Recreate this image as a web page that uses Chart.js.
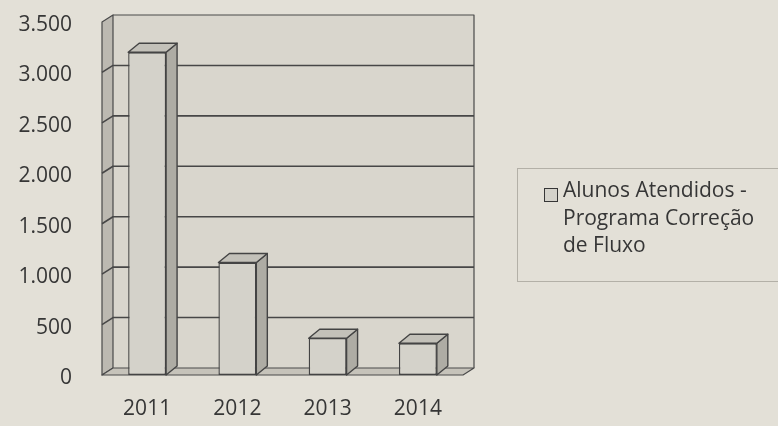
<!DOCTYPE html>
<html>
<head>
<meta charset="utf-8">
<script src="https://cdn.jsdelivr.net/npm/chart.js@4/dist/chart.umd.min.js"></script>
<style>
  html, body { margin: 0; padding: 0; background: #e3e0d7; }
  #wrap { position: relative; width: 778px; height: 426px; background: #e3e0d7; overflow: hidden; }
  #c { position: absolute; left: 0; top: 0; }
  #legend {
    position: absolute; left: 517px; top: 168px; width: 275px; height: 114px;
    border: 1px solid #b3b0a7; border-right: none; box-sizing: border-box;
    font-family: "Open Sans", sans-serif; font-size: 21px; color: #363636;
  }
  #legend .box {
    position: absolute; left: 26px; top: 19px; width: 12px; height: 12px;
    border: 1.5px solid #363636; background: #d4d2ca;
  }
  #legend .txt { position: absolute; left: 45px; top: 7px; line-height: 27.5px; white-space: nowrap; }
</style>
</head>
<body>
<div id="wrap">
  <canvas id="c" width="778" height="426"></canvas>
  <div id="legend"><div class="box"></div><div class="txt" id="legendText"></div></div>
</div>
<script>
const categories = ['2011', '2012', '2013', '2014'];
const alunosAtendidos = [3200, 1115, 365, 315];
const yTickValues = [0, 500, 1000, 1500, 2000, 2500, 3000, 3500];
const seriesName = 'Alunos Atendidos - Programa Correção de Fluxo';
const legendLines = ['Alunos Atendidos -', 'Programa Correção', 'de Fluxo'];

document.getElementById('legendText').innerHTML = legendLines.join('<br>');

const fmt = v => String(v).replace(/\B(?=(\d{3})+(?!\d))/g, '.');
const wallDx = 11, wallDy = -7, barDx = 11, barDy = -9;
const lineCol = '#4a4a4a';

const threeD = {
  id: 'threeD',
  beforeDatasetsDraw(chart) {
    const ctx = chart.ctx;
    const { left: L, right: R, top: T, bottom: B } = chart.chartArea;
    const ys = chart.scales.y;
    ctx.save();
    ctx.lineJoin = 'round';
    // back wall
    ctx.fillStyle = '#d9d6cd';
    ctx.fillRect(L + wallDx, T + wallDy, R - L, B - T);
    ctx.strokeStyle = lineCol; ctx.lineWidth = 1.2;
    ctx.beginPath();
    ctx.moveTo(L + wallDx, T + wallDy); ctx.lineTo(R + wallDx, T + wallDy);
    ctx.lineTo(R + wallDx, B + wallDy);
    ctx.stroke();
    // left wall
    ctx.fillStyle = '#bcb9b1';
    ctx.beginPath();
    ctx.moveTo(L, T); ctx.lineTo(L + wallDx, T + wallDy); ctx.lineTo(L + wallDx, B + wallDy); ctx.lineTo(L, B); ctx.closePath();
    ctx.fill(); ctx.stroke();
    // floor
    ctx.fillStyle = '#c6c3ba';
    ctx.beginPath();
    ctx.moveTo(L, B); ctx.lineTo(L + wallDx, B + wallDy); ctx.lineTo(R + wallDx, B + wallDy); ctx.lineTo(R, B); ctx.closePath();
    ctx.fill(); ctx.stroke();
    // gridlines
    ctx.lineWidth = 1.6; ctx.strokeStyle = '#474747';
    yTickValues.forEach(v => {
      if (v === 0 || v === 3500) return;
      const y = ys.getPixelForValue(v);
      ctx.beginPath();
      ctx.moveTo(L, y); ctx.lineTo(L + wallDx, y + wallDy); ctx.lineTo(R + wallDx, y + wallDy);
      ctx.stroke();
    });
    ctx.restore();
  },
  afterDatasetsDraw(chart) {
    const ctx = chart.ctx;
    const meta = chart.getDatasetMeta(0);
    ctx.save();
    ctx.lineJoin = 'round';
    ctx.strokeStyle = '#444'; ctx.lineWidth = 1.4;
    meta.data.forEach(bar => {
      const { x, y, width, base } = bar.getProps(['x', 'y', 'width', 'base'], true);
      const l = x - width / 2, r = x + width / 2;
      // side face
      ctx.fillStyle = '#aeaca4';
      ctx.beginPath();
      ctx.moveTo(r, y); ctx.lineTo(r + barDx, y + barDy); ctx.lineTo(r + barDx, base + barDy); ctx.lineTo(r, base); ctx.closePath();
      ctx.fill(); ctx.stroke();
      // top face
      ctx.fillStyle = '#c3c1b9';
      ctx.beginPath();
      ctx.moveTo(l, y); ctx.lineTo(l + barDx, y + barDy); ctx.lineTo(r + barDx, y + barDy); ctx.lineTo(r, y); ctx.closePath();
      ctx.fill(); ctx.stroke();
    });
    ctx.restore();
  }
};

const font = { family: '"Open Sans", sans-serif', size: 21 };

new Chart(document.getElementById('c'), {
  type: 'bar',
  data: {
    labels: categories,
    datasets: [{
      label: seriesName,
      data: alunosAtendidos,
      backgroundColor: '#d4d2ca',
      borderColor: '#444',
      borderWidth: 1.4,
      borderSkipped: false,
      barPercentage: 0.42,
      categoryPercentage: 1
    }]
  },
  options: {
    responsive: false,
    animation: false,
    devicePixelRatio: 1,
    layout: { autoPadding: false, padding: { top: 22, right: 315, bottom: 0, left: 0 } },
    plugins: { legend: { display: false }, tooltip: { enabled: false } },
    scales: {
      x: {
        grid: { display: false, drawTicks: false },
        border: { display: false },
        ticks: { font, color: '#363636', padding: 21 },
        afterFit(s) { s.height = 51; s.paddingLeft = 0; s.paddingRight = 0; }
      },
      y: {
        min: 0, max: 3500,
        afterBuildTicks(s) { s.ticks = yTickValues.map(v => ({ value: v })); },
        grid: { display: false, drawTicks: false },
        border: { display: false },
        ticks: { font, color: '#363636', padding: 30, labelOffset: 3, callback: v => fmt(v) },
        afterFit(s) { s.width = 102; s.paddingTop = 0; s.paddingBottom = 0; }
      }
    }
  },
  plugins: [threeD]
});
</script>
</body>
</html>
